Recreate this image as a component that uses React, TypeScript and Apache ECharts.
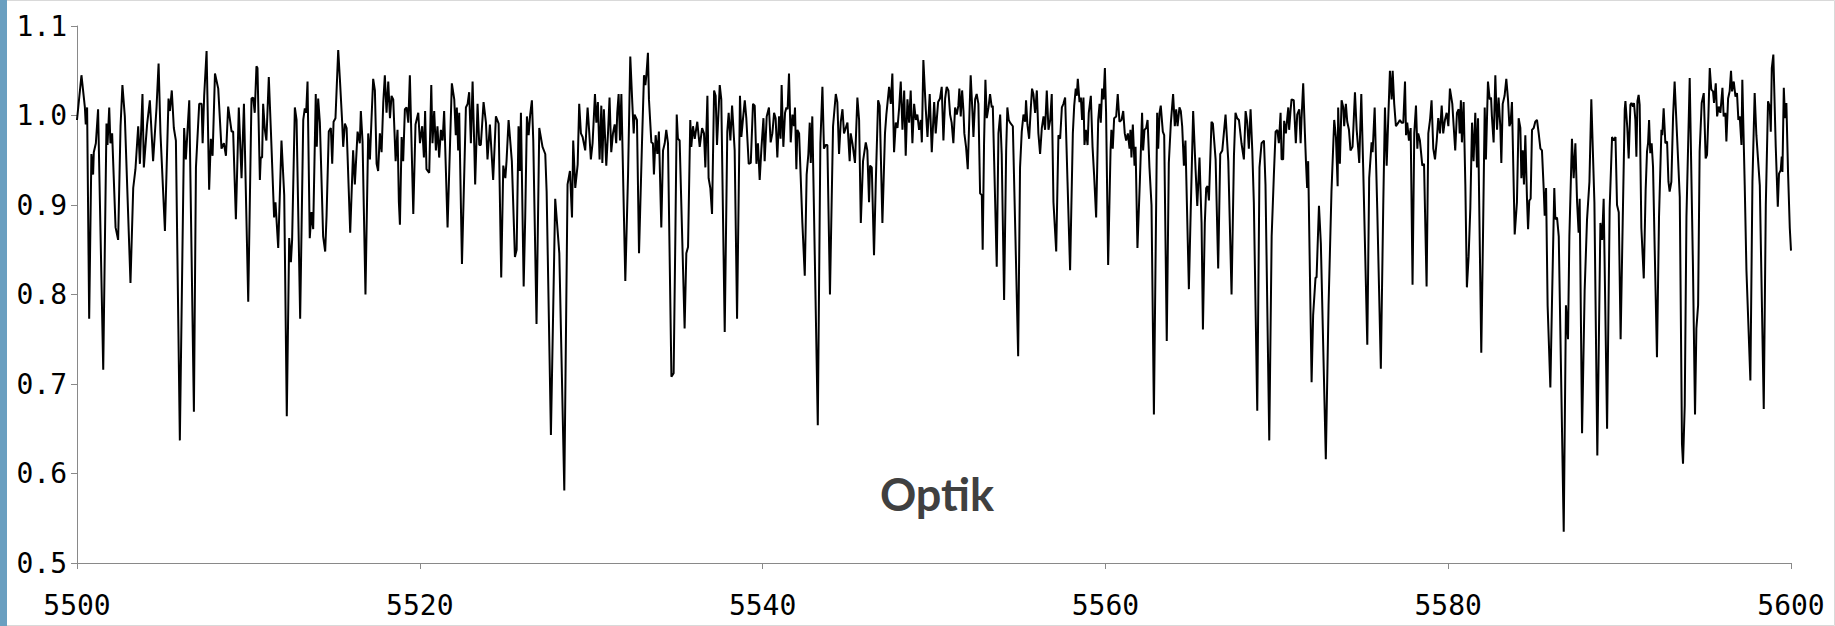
import React, { useEffect, useRef } from "react";
import * as echarts from "echarts";

// Spectrum flux (wavelength in Å, normalised flux) in 10 Å bands
const band5500 = [[5500.00,0.995],[5500.26,1.045],[5500.46,1.009],[5500.51,0.990],[5500.59,1.009],[5500.71,0.773],[5500.84,0.957],[5500.94,0.934],[5500.98,0.959],[5501.10,0.969],[5501.23,1.007],[5501.53,0.716],[5501.72,0.991],[5501.78,0.967],[5501.88,1.009],[5501.95,0.969],[5502.05,0.980],[5502.25,0.875],[5502.40,0.861],[5502.54,0.988],[5502.65,1.034],[5502.79,0.999],[5503.12,0.813],[5503.28,0.919],[5503.41,0.940],[5503.57,0.988],[5503.67,0.946],[5503.82,1.024],[5503.90,0.942],[5504.09,0.990],[5504.25,1.017],[5504.44,0.949],[5504.64,1.009],[5504.76,1.058],[5504.87,0.980],[5505.13,0.871],[5505.34,1.019],[5505.42,1.005],[5505.53,1.028],[5505.65,0.986],[5505.77,0.972],[5506.00,0.637],[5506.25,0.986],[5506.35,0.951],[5506.55,1.017],[5506.82,0.669],[5506.94,0.942],[5507.13,1.013],[5507.27,1.013],[5507.33,0.969],[5507.42,1.022],[5507.56,1.072],[5507.71,0.917],[5507.81,0.974],[5507.91,0.955],[5508.05,1.047],[5508.24,1.030],[5508.43,0.963],[5508.57,0.969],[5508.69,0.955],[5508.82,1.010],[5509.02,0.982],[5509.11,0.982],[5509.27,0.884],[5509.44,1.009],[5509.60,0.930],[5509.74,1.013],[5509.99,0.792]];
const band5510 = [[5510.18,1.019],[5510.28,1.020],[5510.37,1.003],[5510.47,1.055],[5510.53,1.053],[5510.67,0.928],[5510.72,0.953],[5510.80,0.953],[5510.86,1.013],[5510.96,0.984],[5511.05,0.972],[5511.19,1.043],[5511.31,0.984],[5511.50,0.886],[5511.58,0.903],[5511.74,0.852],[5511.93,0.972],[5512.09,0.911],[5512.24,0.664],[5512.38,0.863],[5512.48,0.836],[5512.55,0.861],[5512.71,1.009],[5512.81,0.995],[5513.02,0.773],[5513.20,0.995],[5513.29,1.008],[5513.37,1.003],[5513.45,1.038],[5513.58,0.863],[5513.68,0.892],[5513.78,0.873],[5513.93,1.024],[5513.99,0.965],[5514.07,1.019],[5514.17,0.992],[5514.36,0.865],[5514.48,0.848],[5514.56,0.888],[5514.69,0.982],[5514.81,0.986],[5514.89,0.946],[5514.97,0.993],[5515.08,0.997],[5515.24,1.073],[5515.34,1.040],[5515.47,0.993],[5515.53,0.965],[5515.63,0.991],[5515.73,0.986],[5515.94,0.869],[5516.11,0.961],[5516.21,0.923],[5516.37,0.982],[5516.50,0.969],[5516.56,1.005],[5516.66,0.971],[5516.83,0.800],[5516.99,0.980],[5517.09,0.951],[5517.18,0.995],[5517.28,1.041],[5517.38,1.028],[5517.48,0.946],[5517.57,0.938],[5517.67,0.980],[5517.77,0.959],[5517.87,1.015],[5517.96,1.045],[5518.06,1.003],[5518.16,1.038],[5518.26,0.997],[5518.35,1.022],[5518.45,1.018],[5518.59,0.949],[5518.70,0.984],[5518.78,0.903],[5518.84,0.878],[5518.94,0.976],[5519.03,0.949],[5519.13,1.007],[5519.23,1.009],[5519.33,0.992],[5519.42,1.045],[5519.62,0.890],[5519.75,0.990],[5519.91,1.003],[5520.01,0.969],[5520.14,0.988],[5520.24,0.953]];
const band5520 = [[5520.31,1.005],[5520.39,0.940],[5520.55,0.936],[5520.59,0.969],[5520.67,1.034],[5520.74,0.969],[5520.84,1.005],[5520.94,0.961],[5521.03,0.988],[5521.13,0.953],[5521.23,0.984],[5521.33,0.972],[5521.42,1.005],[5521.62,0.875],[5521.77,0.972],[5521.87,1.036],[5522.01,1.018],[5522.10,0.978],[5522.16,1.009],[5522.24,0.961],[5522.30,1.003],[5522.46,0.834],[5522.69,1.009],[5522.79,1.013],[5522.88,1.026],[5522.98,0.969],[5523.08,1.038],[5523.18,0.965],[5523.23,0.923],[5523.37,1.013],[5523.47,0.967],[5523.56,0.967],[5523.72,1.015],[5523.86,0.992],[5523.95,0.951],[5524.09,0.990],[5524.28,0.928],[5524.44,0.999],[5524.60,0.991],[5524.75,0.819],[5524.87,0.944],[5524.99,0.930],[5525.06,0.949],[5525.18,0.995],[5525.37,0.949],[5525.55,0.842],[5525.65,0.850],[5525.76,0.988],[5525.84,0.938],[5525.90,1.003],[5526.06,0.809],[5526.15,0.886],[5526.25,0.999],[5526.35,0.978],[5526.44,1.001],[5526.54,1.017],[5526.62,0.972],[5526.81,0.767],[5526.97,0.986],[5527.16,0.965],[5527.32,0.957],[5527.40,0.915],[5527.65,0.643],[5527.90,0.907],[5528.14,0.846],[5528.43,0.581],[5528.62,0.923],[5528.76,0.938],[5528.88,0.886],[5528.95,0.972],[5529.07,0.919],[5529.21,0.945],[5529.30,1.013],[5529.40,0.980],[5529.50,0.976],[5529.65,0.961],[5529.79,1.009],[5529.89,0.980],[5529.98,0.951],[5530.08,0.969],[5530.22,1.024]];
const band5530 = [[5530.30,0.992],[5530.39,1.015],[5530.49,0.951],[5530.59,1.011],[5530.65,0.947],[5530.74,1.007],[5530.88,0.944],[5530.98,0.980],[5531.07,1.020],[5531.17,0.959],[5531.27,0.980],[5531.37,0.990],[5531.46,0.969],[5531.52,1.003],[5531.60,1.024],[5531.68,0.972],[5531.76,1.024],[5531.99,0.815],[5532.15,0.934],[5532.28,1.066],[5532.40,1.013],[5532.48,0.980],[5532.53,1.001],[5532.67,0.995],[5532.79,0.846],[5532.96,0.967],[5533.08,1.045],[5533.16,1.034],[5533.22,1.045],[5533.31,1.070],[5533.37,1.018],[5533.51,0.970],[5533.60,0.969],[5533.66,0.934],[5533.76,0.978],[5533.86,0.957],[5533.95,0.982],[5534.09,0.875],[5534.19,0.961],[5534.29,0.969],[5534.38,0.984],[5534.48,0.969],[5534.68,0.708],[5534.81,0.712],[5534.91,0.865],[5534.99,1.001],[5535.06,0.974],[5535.16,0.972],[5535.45,0.762],[5535.55,0.846],[5535.65,0.853],[5535.78,0.995],[5535.84,0.965],[5535.94,0.988],[5536.04,0.974],[5536.19,0.993],[5536.33,0.965],[5536.47,0.986],[5536.58,0.980],[5536.66,0.942],[5536.78,1.022],[5536.85,0.930],[5536.95,0.919],[5537.05,0.890],[5537.17,1.028],[5537.26,1.022],[5537.34,0.967],[5537.50,1.034],[5537.59,1.018],[5537.79,0.758],[5537.94,0.982],[5538.02,1.003],[5538.12,0.972],[5538.22,1.011],[5538.37,0.961],[5538.51,0.773],[5538.68,1.022],[5538.76,0.976],[5538.86,0.997],[5538.96,1.017],[5539.05,0.997],[5539.19,0.946],[5539.31,0.947],[5539.44,1.013],[5539.54,1.011],[5539.64,0.946],[5539.73,0.969],[5539.83,0.928],[5539.93,0.963],[5540.05,0.997],[5540.12,0.949],[5540.24,0.999]];
const band5540 = [[5540.37,1.009],[5540.47,0.970],[5540.57,0.980],[5540.67,1.003],[5540.76,0.997],[5540.86,0.953],[5540.96,0.999],[5541.05,0.974],[5541.11,1.034],[5541.21,0.965],[5541.31,1.003],[5541.39,1.009],[5541.46,1.007],[5541.54,1.047],[5541.64,0.970],[5541.74,1.001],[5541.83,0.988],[5541.89,1.009],[5541.97,0.940],[5542.03,0.984],[5542.13,0.980],[5542.32,0.880],[5542.46,0.821],[5542.57,0.934],[5542.67,0.957],[5542.75,0.992],[5542.81,0.947],[5542.90,0.999],[5543.22,0.654],[5543.37,0.969],[5543.49,1.032],[5543.58,0.963],[5543.68,0.967],[5543.78,0.967],[5543.93,0.800],[5544.11,0.988],[5544.27,1.024],[5544.36,1.015],[5544.46,0.957],[5544.56,0.993],[5544.66,1.007],[5544.75,0.980],[5544.85,0.986],[5544.95,0.992],[5545.08,0.949],[5545.14,0.980],[5545.24,0.969],[5545.39,0.947],[5545.53,1.020],[5545.63,0.995],[5545.73,0.880],[5545.86,0.949],[5546.02,0.970],[5546.11,0.961],[5546.21,0.903],[5546.27,0.944],[5546.37,0.942],[5546.50,0.844],[5546.60,0.923],[5546.74,1.017],[5546.83,1.011],[5546.99,0.880],[5547.14,0.980],[5547.22,1.001],[5547.38,1.032],[5547.48,1.013],[5547.57,1.047],[5547.67,0.959],[5547.77,0.992],[5547.87,0.986],[5547.96,1.007],[5548.06,1.038],[5548.16,0.984],[5548.26,1.028],[5548.35,0.955],[5548.45,1.018],[5548.55,0.992],[5548.64,1.028],[5548.74,0.969],[5548.84,1.013],[5548.94,0.995],[5549.03,1.001],[5549.13,0.984],[5549.23,0.995],[5549.29,0.970],[5549.38,1.062],[5549.52,1.007],[5549.62,0.976],[5549.75,1.024],[5549.87,0.959],[5550.01,1.015],[5550.10,0.980],[5550.24,1.015]];
const band5550 = [[5550.35,1.019],[5550.45,1.032],[5550.55,0.972],[5550.65,1.019],[5550.74,1.032],[5550.84,1.028],[5550.94,1.001],[5551.03,0.992],[5551.13,0.969],[5551.23,1.009],[5551.33,1.001],[5551.42,1.011],[5551.48,1.030],[5551.56,0.999],[5551.64,1.028],[5551.72,1.005],[5551.77,0.980],[5551.87,0.965],[5551.97,0.940],[5552.07,1.003],[5552.14,1.045],[5552.24,1.005],[5552.30,0.976],[5552.40,1.018],[5552.49,1.024],[5552.59,1.013],[5552.69,0.913],[5552.79,0.911],[5552.84,0.850],[5552.92,0.969],[5553.00,1.040],[5553.08,0.997],[5553.18,1.009],[5553.27,1.024],[5553.37,1.009],[5553.43,1.011],[5553.51,0.949],[5553.66,0.831],[5553.76,0.980],[5553.86,1.001],[5553.95,0.957],[5554.09,0.794],[5554.21,0.961],[5554.28,1.009],[5554.36,0.995],[5554.44,0.992],[5554.60,0.988],[5554.75,0.865],[5554.91,0.731],[5555.02,0.942],[5555.12,0.982],[5555.22,1.001],[5555.32,0.993],[5555.37,1.017],[5555.45,0.990],[5555.55,0.974],[5555.65,1.009],[5555.72,1.030],[5555.80,1.024],[5555.90,1.003],[5556.00,1.028],[5556.09,0.980],[5556.19,0.957],[5556.29,0.986],[5556.39,0.999],[5556.48,0.984],[5556.58,1.028],[5556.68,0.984],[5556.78,0.995],[5556.87,1.024],[5556.97,0.903],[5557.13,0.848],[5557.26,0.978],[5557.36,0.974],[5557.46,1.009],[5557.55,1.013],[5557.65,1.020],[5557.79,0.926],[5557.94,0.827],[5558.10,0.980],[5558.18,1.011],[5558.27,1.030],[5558.33,1.022],[5558.39,1.041],[5558.49,1.015],[5558.57,1.020],[5558.64,0.995],[5558.72,1.020],[5558.78,0.967],[5558.86,0.984],[5558.96,0.967],[5559.03,1.003],[5559.15,1.022],[5559.25,0.965],[5559.34,0.934],[5559.46,0.886],[5559.58,0.995],[5559.66,1.013],[5559.73,0.992],[5559.81,1.030],[5559.89,1.018],[5559.97,1.053],[5560.04,1.003],[5560.16,0.833]];
const band5560 = [[5560.30,0.961],[5560.35,0.984],[5560.43,0.963],[5560.51,0.997],[5560.63,0.999],[5560.72,1.024],[5560.82,0.993],[5560.94,0.995],[5561.04,1.005],[5561.13,0.980],[5561.21,0.972],[5561.31,0.980],[5561.41,0.963],[5561.46,0.984],[5561.52,0.953],[5561.60,0.990],[5561.70,0.944],[5561.76,0.965],[5561.87,0.852],[5562.01,0.926],[5562.14,1.003],[5562.20,0.961],[5562.28,0.984],[5562.38,0.986],[5562.46,0.995],[5562.57,0.942],[5562.69,0.900],[5562.83,0.666],[5562.92,0.827],[5563.02,1.003],[5563.08,0.963],[5563.16,1.003],[5563.23,1.011],[5563.35,0.982],[5563.43,0.978],[5563.58,0.748],[5563.70,0.947],[5563.82,0.992],[5563.95,1.024],[5564.05,0.988],[5564.13,1.007],[5564.21,0.988],[5564.32,1.009],[5564.40,1.005],[5564.48,0.988],[5564.58,0.944],[5564.67,0.972],[5564.87,0.806],[5564.99,0.903],[5565.12,1.005],[5565.26,0.940],[5565.36,0.899],[5565.49,0.953],[5565.61,0.880],[5565.69,0.761],[5565.80,0.880],[5565.88,0.919],[5565.96,0.921],[5566.04,0.905],[5566.19,0.993],[5566.27,0.991],[5566.43,0.951],[5566.58,0.829],[5566.70,0.957],[5566.82,0.961],[5567.01,1.001],[5567.17,0.949],[5567.36,0.800],[5567.50,0.955],[5567.59,1.003],[5567.69,0.997],[5567.79,0.995],[5567.94,0.969],[5568.08,0.951],[5568.18,1.005],[5568.27,0.993],[5568.37,0.963],[5568.47,1.007],[5568.57,0.961],[5568.66,0.903],[5568.86,0.670],[5568.99,0.942],[5569.11,0.969],[5569.25,0.972],[5569.34,0.923],[5569.56,0.637],[5569.70,0.865],[5569.83,0.934],[5569.93,0.982],[5570.03,0.984],[5570.12,0.969],[5570.22,1.003]];
const band5570 = [[5570.28,0.951],[5570.37,0.951],[5570.43,0.994],[5570.53,0.980],[5570.61,0.997],[5570.67,1.009],[5570.72,0.984],[5570.80,1.005],[5570.86,1.018],[5570.99,1.017],[5571.11,0.969],[5571.19,1.001],[5571.31,1.007],[5571.39,0.969],[5571.44,0.995],[5571.54,1.036],[5571.64,0.980],[5571.70,0.949],[5571.77,0.919],[5571.83,0.949],[5572.03,0.702],[5572.12,0.777],[5572.26,0.819],[5572.32,0.819],[5572.46,0.899],[5572.57,0.857],[5572.86,0.616],[5573.02,0.788],[5573.19,0.915],[5573.35,0.995],[5573.45,0.976],[5573.55,0.921],[5573.58,1.009],[5573.68,0.946],[5573.78,1.017],[5573.88,1.009],[5573.93,0.988],[5574.03,1.013],[5574.11,0.993],[5574.21,0.984],[5574.30,0.961],[5574.42,0.965],[5574.56,1.026],[5574.66,0.984],[5574.75,0.963],[5574.81,0.947],[5574.93,1.024],[5575.04,0.942],[5575.28,0.744],[5575.39,0.930],[5575.53,0.970],[5575.59,0.959],[5575.71,1.009],[5575.86,0.896],[5576.07,0.717],[5576.21,0.899],[5576.31,1.009],[5576.41,0.944],[5576.50,0.995],[5576.60,1.050],[5576.70,1.018],[5576.76,1.050],[5576.85,1.013],[5576.95,0.988],[5577.09,0.992],[5577.18,0.995],[5577.28,0.992],[5577.38,0.992],[5577.48,1.038],[5577.54,0.978],[5577.61,0.992],[5577.71,0.972],[5577.81,0.986],[5577.92,0.811],[5578.02,0.980],[5578.12,1.011],[5578.20,0.963],[5578.25,0.980],[5578.35,0.972],[5578.49,0.944],[5578.59,0.946],[5578.74,0.809],[5578.84,0.980],[5578.94,0.995],[5579.03,1.017],[5579.13,0.963],[5579.23,0.951],[5579.33,0.972],[5579.42,0.997],[5579.52,0.980],[5579.62,1.011],[5579.71,0.980],[5579.81,0.995],[5579.91,1.003],[5580.01,0.988],[5580.10,1.030],[5580.24,1.013]];
const band5580 = [[5580.32,0.988],[5580.41,0.961],[5580.51,1.003],[5580.61,1.007],[5580.67,0.980],[5580.74,1.017],[5580.80,0.970],[5580.90,1.015],[5581.00,0.923],[5581.09,0.808],[5581.19,0.842],[5581.29,0.896],[5581.39,0.992],[5581.48,0.949],[5581.58,1.003],[5581.68,0.942],[5581.74,0.997],[5581.93,0.735],[5582.03,0.865],[5582.13,1.009],[5582.20,0.951],[5582.32,1.038],[5582.42,1.018],[5582.50,1.020],[5582.55,0.999],[5582.65,0.970],[5582.75,1.045],[5582.85,0.984],[5582.94,1.020],[5583.04,0.988],[5583.10,0.947],[5583.18,1.013],[5583.29,1.022],[5583.39,1.041],[5583.49,1.018],[5583.57,0.988],[5583.64,0.992],[5583.72,1.015],[5583.88,0.867],[5584.01,0.903],[5584.11,0.997],[5584.21,0.986],[5584.27,0.930],[5584.35,0.961],[5584.42,0.923],[5584.50,0.978],[5584.60,0.905],[5584.66,0.873],[5584.73,0.905],[5584.81,0.907],[5584.89,0.984],[5584.99,0.986],[5585.08,0.993],[5585.18,0.995],[5585.28,0.980],[5585.38,0.963],[5585.47,0.961],[5585.57,0.919],[5585.63,0.888],[5585.71,0.919],[5585.80,0.788],[5585.96,0.696],[5586.06,0.796],[5586.19,0.919],[5586.25,0.884],[5586.35,0.886],[5586.45,0.865],[5586.74,0.535],[5586.87,0.788],[5586.99,0.750],[5587.07,0.865],[5587.22,0.974],[5587.32,0.930],[5587.42,0.969],[5587.52,0.903],[5587.61,0.869],[5587.67,0.907],[5587.81,0.645],[5587.96,0.804],[5588.10,0.884],[5588.24,0.926],[5588.35,1.018],[5588.53,0.903],[5588.70,0.620],[5588.88,0.880],[5588.98,0.861],[5589.07,0.907],[5589.27,0.650],[5589.42,0.896],[5589.56,0.976],[5589.66,0.972],[5589.76,0.976],[5589.85,0.900],[5589.95,0.892],[5590.06,0.750],[5590.18,0.880],[5590.30,1.007]];
const band5590 = [[5590.34,1.016],[5590.45,0.986],[5590.53,0.952],[5590.63,1.012],[5590.69,1.014],[5590.78,1.010],[5590.84,1.014],[5590.92,0.995],[5590.98,0.954],[5591.04,1.016],[5591.11,1.023],[5591.17,1.012],[5591.27,0.874],[5591.41,0.818],[5591.52,0.917],[5591.60,0.960],[5591.66,0.969],[5591.72,0.995],[5591.79,0.958],[5591.87,0.969],[5591.95,0.943],[5592.05,0.849],[5592.18,0.730],[5592.30,0.887],[5592.44,0.984],[5592.49,0.978],[5592.57,1.008],[5592.67,0.969],[5592.77,0.971],[5592.85,0.926],[5592.92,0.915],[5593.02,0.926],[5593.12,0.999],[5593.21,1.038],[5593.35,0.978],[5593.51,0.909],[5593.64,0.633],[5593.70,0.611],[5593.80,0.676],[5593.90,0.887],[5593.99,0.960],[5594.09,1.042],[5594.28,0.831],[5594.40,0.666],[5594.48,0.762],[5594.58,0.788],[5594.67,0.960],[5594.79,1.014],[5594.91,1.025],[5595.02,0.952],[5595.10,0.956],[5595.18,0.999],[5595.26,1.053],[5595.35,1.029],[5595.45,1.027],[5595.51,1.014],[5595.61,1.036],[5595.69,0.999],[5595.78,1.010],[5595.88,1.003],[5596.00,1.031],[5596.07,0.999],[5596.17,1.003],[5596.23,0.971],[5596.33,1.019],[5596.42,1.027],[5596.50,1.050],[5596.56,1.027],[5596.66,1.038],[5596.76,1.021],[5596.85,1.025],[5596.93,0.995],[5597.01,0.999],[5597.11,0.967],[5597.16,1.040],[5597.30,0.922],[5597.40,0.827],[5597.63,0.704],[5597.75,0.926],[5597.88,1.025],[5597.98,0.978],[5598.18,0.922],[5598.41,0.672],[5598.53,0.900],[5598.66,1.016],[5598.76,1.010],[5598.82,0.982],[5598.88,1.053],[5598.97,1.068],[5599.11,0.965],[5599.23,0.898],[5599.30,0.935],[5599.40,0.939],[5599.46,0.954],[5599.50,0.937],[5599.58,1.031],[5599.65,0.997],[5599.73,1.014],[5599.83,0.935],[5599.93,0.874],[5600.00,0.849]];

const xTicks = { min: 5500, max: 5600, step: 20 };
const yTicks = { min: 0.5, max: 1.1, step: 0.1 };
const titleText = "Optik";

export default function App() {
  const ref = useRef<HTMLDivElement>(null);
  useEffect(() => {
    if (!ref.current) return;
    const chart = echarts.init(ref.current, null, { renderer: "svg" });
    const data = [
      ...band5500, ...band5510, ...band5520, ...band5530, ...band5540,
      ...band5550, ...band5560, ...band5570, ...band5580, ...band5590,
    ];
    const labelFont = { fontFamily: "DejaVu Sans Mono", fontSize: 28, color: "#000000" };
    chart.setOption({
      animation: false,
      backgroundColor: "#ffffff",
      grid: { left: 77, right: 44, top: 26, bottom: 63, containLabel: false },
      xAxis: {
        type: "value",
        min: xTicks.min,
        max: xTicks.max,
        interval: xTicks.step,
        axisLine: { show: true, lineStyle: { color: "#898989", width: 1 } },
        axisTick: { show: true, length: 6, lineStyle: { color: "#898989" } },
        axisLabel: { ...labelFont, margin: 28, formatter: (v: number) => String(v) },
        splitLine: { show: false },
      },
      yAxis: {
        type: "value",
        min: yTicks.min,
        max: yTicks.max,
        interval: yTicks.step,
        axisLine: { show: true, lineStyle: { color: "#898989", width: 1 } },
        axisTick: { show: true, length: 6, lineStyle: { color: "#898989" } },
        axisLabel: { ...labelFont, margin: 10, formatter: (v: number) => v.toFixed(1) },
        splitLine: { show: false },
      },
      series: [
        {
          type: "line",
          data,
          symbol: "none",
          lineStyle: { color: "#000000", width: 2 },
          silent: true,
        },
      ],
      graphic: [
        {
          type: "rect",
          shape: { x: 0.5, y: 0.5, width: 1834, height: 625 },
          style: { fill: "none", stroke: "#d9d9d9", lineWidth: 1 },
          silent: true,
        },
        {
          type: "rect",
          shape: { x: 0, y: 0, width: 7, height: 626 },
          style: { fill: "#6a9fc0" },
          silent: true,
        },
        {
          type: "text",
          x: 937,
          y: 494,
          style: {
            text: titleText,
            font: "bold 45px Lato",
            fill: "#404040",
            textAlign: "center",
            textVerticalAlign: "middle",
          },
          silent: true,
        },
      ],
    });
    return () => chart.dispose();
  }, []);
  return (
    <div
      ref={ref}
      style={{ position: "fixed", left: 0, top: 0, width: 1835, height: 626 }}
    />
  );
}
